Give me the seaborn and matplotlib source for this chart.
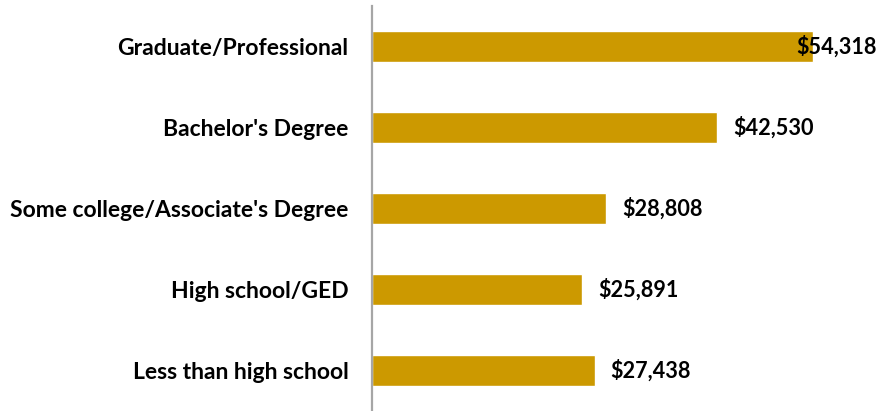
import matplotlib
matplotlib.use("Agg")
import matplotlib.pyplot as plt
import seaborn as sns
import pandas as pd

categories = ["Graduate/Professional", "Bachelor's Degree",
              "Some college/Associate's Degree", "High school/GED",
              "Less than high school"]
values = [54318, 42530, 28808, 25891, 27438]
value_labels = ["$54,318", "$42,530", "$28,808", "$25,891", "$27,438"]

sns.set_theme(style="white")
plt.rcParams['font.family'] = ['Lato', 'DejaVu Sans']

df = pd.DataFrame({"cat": categories, "val": values})

fig = plt.figure(figsize=(8.8, 4.11), dpi=100)
ax = fig.add_axes([372/880, 0, 506/880, 1 - 6/411])
sns.barplot(data=df, y="cat", x="val", orient="h", color="#CC9900",
            saturation=1, width=0.395, ax=ax)

ax.set_xlim(0, 62324)
ax.set_ylim(4.5, -0.5)
ax.set_xlabel("")
ax.set_ylabel("")
ax.set_xticks([])
for s in ["top", "right", "bottom"]:
    ax.spines[s].set_visible(False)
ax.spines["left"].set_color("#A6A6A6")
ax.spines["left"].set_linewidth(1.6)
ax.tick_params(axis="y", length=0, pad=17)
for lab in ax.get_yticklabels():
    lab.set_fontsize(16.5)
    lab.set_fontweight("bold")
    lab.set_color("black")

texts = []
for i, (v, t) in enumerate(zip(values, value_labels)):
    a = ax.annotate(t, xy=(v, i), xytext=(11.5, 0), textcoords="offset points",
                    ha="left", va="center", fontsize=15.6, fontweight="bold",
                    color="black", annotation_clip=False)
    texts.append(a)

fig.canvas.draw()
r = fig.canvas.get_renderer()
W = fig.bbox.width
for a in texts:
    bb = a.get_window_extent(r)
    if bb.x1 > W - 2:
        shift = bb.x1 - (W - 3)
        a.set_position((11.5 - shift * 72 / fig.dpi, 0))

fig.savefig("out.png", dpi=100)
